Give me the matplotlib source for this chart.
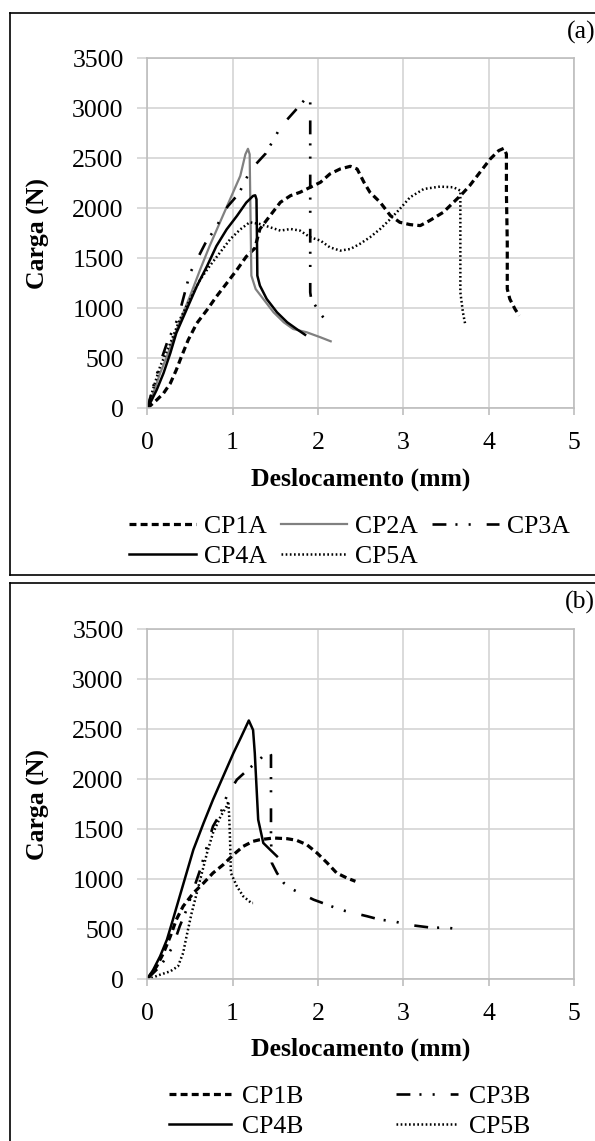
import matplotlib
matplotlib.use("Agg")
import matplotlib.pyplot as plt
from matplotlib.lines import Line2D

plt.rcParams["font.family"] = ["Liberation Serif", "DejaVu Serif"]
plt.rcParams["lines.scale_dashes"] = False

# ---- panel (a) data: displacement (mm) / load (N) ----
cp1a_x = [0, 0.11, 0.19, 0.27, 0.34, 0.40, 0.48, 0.58, 0.70, 0.81, 0.93, 1.05, 1.16, 1.26,
          1.32, 1.44, 1.56, 1.68, 1.79, 1.91, 2.03, 2.14, 2.26, 2.38, 2.46, 2.54, 2.61, 2.73,
          2.85, 2.96, 3.08, 3.20, 3.31, 3.47, 3.59, 3.69, 3.78, 3.90, 4.02, 4.12, 4.18, 4.21,
          4.21, 4.22, 4.22, 4.25, 4.31, 4.36]
cp1a_y = [0, 83, 150, 250, 384, 517, 684, 850, 984, 1117, 1250, 1384, 1517, 1600,
          1793, 1927, 2060, 2127, 2160, 2210, 2260, 2343, 2393, 2420, 2393, 2260, 2160, 2060,
          1927, 1860, 1837, 1827, 1877, 1960, 2060, 2143, 2227, 2360, 2493, 2577, 2600, 2543,
          2160, 1660, 1193, 1093, 993, 927]

cp2a_x = [0, 0.07, 0.15, 0.23, 0.30, 0.42, 0.50, 0.62, 0.73, 0.85, 0.97, 1.09, 1.15, 1.18,
          1.20, 1.21, 1.22, 1.27, 1.36, 1.48, 1.60, 1.71, 1.87, 2.03, 2.15]
cp2a_y = [0, 150, 351, 518, 686, 953, 1120, 1388, 1622, 1856, 2090, 2324, 2540, 2595,
          2540, 1923, 1327, 1193, 1093, 960, 860, 793, 760, 710, 670]

cp3a_x = [0, 0.07, 0.15, 0.23, 0.36, 0.50, 0.68, 0.81, 0.94, 1.075, 1.21, 1.39, 1.565, 1.74,
          1.87, 1.91, 1.91, 1.91, 1.92, 1.97, 2.03, 2.09]
cp3a_y = [0, 217, 451, 652, 900, 1350, 1650, 1816, 2016, 2150, 2383, 2550, 2816, 2983,
          3110, 3080, 2000, 1160, 1100, 1027, 943, 883]

cp4a_x = [0, 0.05, 0.11, 0.19, 0.27, 0.34, 0.46, 0.58, 0.70, 0.81, 0.93, 1.05, 1.16, 1.24,
          1.265, 1.28, 1.285, 1.29, 1.32, 1.40, 1.52, 1.64, 1.75, 1.85]
cp4a_y = [0, 80, 184, 351, 552, 752, 986, 1220, 1421, 1622, 1789, 1923, 2057, 2124,
          2130, 2090, 1750, 1327, 1227, 1093, 960, 860, 793, 735]

cp5a_x = [0, 0.07, 0.15, 0.27, 0.38, 0.50, 0.62, 0.73, 0.85, 0.97, 1.09, 1.20, 1.32, 1.44,
          1.56, 1.68, 1.79, 1.91, 2.03, 2.14, 2.26, 2.38, 2.49, 2.61, 2.73, 2.85, 2.96, 3.08,
          3.24, 3.43, 3.59, 3.67, 3.67, 3.67, 3.67, 3.70, 3.73]
cp5a_y = [0, 200, 418, 652, 886, 1087, 1287, 1421, 1555, 1689, 1789, 1860, 1843, 1810,
          1777, 1793, 1777, 1710, 1677, 1610, 1577, 1593, 1643, 1710, 1793, 1893, 1993, 2110,
          2193, 2217, 2210, 2177, 1827, 1493, 1160, 960, 827]

# ---- panel (b) data ----
cp1b_x = [0, 0.11, 0.19, 0.27, 0.34, 0.42, 0.54, 0.66, 0.77, 0.89, 1.01, 1.125, 1.24, 1.32,
          1.48, 1.64, 1.75, 1.87, 1.99, 2.11, 2.22, 2.34, 2.44]
cp1b_y = [0, 127, 260, 427, 593, 727, 860, 960, 1060, 1143, 1243, 1327, 1377, 1393,
          1410, 1403, 1387, 1343, 1260, 1160, 1060, 1010, 977]

cp3b_x = [0, 0.07, 0.15, 0.23, 0.30, 0.38, 0.46, 0.54, 0.62, 0.70, 0.77, 0.86, 0.93, 1.05,
          1.20, 1.30, 1.38, 1.42, 1.45, 1.45, 1.45, 1.46, 1.52, 1.60, 1.71, 1.83, 1.95, 2.11,
          2.26, 2.42, 2.58, 2.73, 2.89, 3.05, 3.20, 3.36, 3.48, 3.66]
cp3b_y = [0, 60, 127, 227, 327, 527, 693, 893, 1093, 1327, 1527, 1660, 1827, 1993,
          2110, 2180, 2250, 2300, 2240, 1800, 1400, 1160, 1060, 960, 893, 843, 793, 743,
          693, 660, 627, 593, 577, 543, 527, 510, 517, 497]

cp4b_x = [0, 0.07, 0.15, 0.23, 0.30, 0.38, 0.46, 0.54, 0.66, 0.77, 0.89, 1.01, 1.10, 1.19,
          1.24, 1.26, 1.28, 1.30, 1.36, 1.44, 1.52]
cp4b_y = [0, 93, 227, 393, 593, 827, 1060, 1293, 1560, 1793, 2027, 2260, 2420, 2585,
          2490, 2260, 1927, 1593, 1360, 1293, 1227]

cp5b_x = [0, 0.05, 0.15, 0.27, 0.36, 0.42, 0.46, 0.52, 0.58, 0.64, 0.70, 0.77, 0.86, 0.93,
          0.95, 0.96, 0.97, 0.98, 1.05, 1.125, 1.22, 1.24]
cp5b_y = [0, 10, 43, 77, 127, 260, 427, 660, 860, 1060, 1260, 1460, 1627, 1727,
          1777, 1627, 1393, 1060, 927, 827, 760, 760]

x_ticks = [0, 1, 2, 3, 4, 5]
y_ticks = [0, 500, 1000, 1500, 2000, 2500, 3000, 3500]

# line styles (dash lengths in points)
DASHED = dict(color="black", lw=2.3, linestyle=(0, (5, 3)))
GRAY = dict(color="#808080", lw=1.6, linestyle="-")
DASHDOTDOT = dict(color="black", lw=1.9, linestyle=(0, (10, 6.5, 1.5, 8, 1.5, 11.5)))
SOLID = dict(color="black", lw=1.8, linestyle="-")
DOTTED = dict(color="black", lw=1.8, linestyle=(0, (1.2, 1.8)))

W, H = 595, 1141
FS = 18.5
GRID_C = "#d4d4d4"

fig = plt.figure(figsize=(W / 100, H / 100), dpi=100)


def fx(px):
    return px / W


def fy(py):
    return 1 - py / H


def style_axes(ax):
    ax.set_xlim(0, 5)
    ax.set_ylim(0, 3500)
    ax.set_xticks(x_ticks)
    ax.set_yticks(y_ticks)
    ax.grid(True, color=GRID_C, lw=1.2)
    ax.set_axisbelow(True)
    for s in ax.spines.values():
        s.set_color("#bdbdbd")
        s.set_linewidth(1.2)
    ax.tick_params(axis="x", length=5, width=1.2, color="#bdbdbd", pad=12, labelsize=FS)
    ax.tick_params(axis="y", length=7, width=1.2, color=GRID_C, pad=10, labelsize=FS)
    ax.set_xlabel("Deslocamento (mm)", fontsize=FS, fontweight="bold")
    ax.xaxis.set_label_coords(0.5, -(479 - 408.3) / 350)
    ax.xaxis.label.set_verticalalignment("center")
    ax.set_ylabel("Carga (N)", fontsize=FS, fontweight="bold")
    ax.yaxis.set_label_coords((38 - 147.3) / 426.5, 0.5)
    ax.yaxis.label.set_verticalalignment("center")


ax_w = fx(573.8) - fx(147.3)
ax_h = fy(58.3) - fy(408.3)
ax_a = fig.add_axes([fx(147.3), fy(408.3), ax_w, ax_h])
ax_b = fig.add_axes([fx(147.3), fy(979), ax_w, ax_h])

# panel (a)
l1a, = ax_a.plot(cp1a_x, cp1a_y, label="CP1A", **DASHED)
l2a, = ax_a.plot(cp2a_x, cp2a_y, label="CP2A", **GRAY)
l3a, = ax_a.plot(cp3a_x, cp3a_y, label="CP3A", **DASHDOTDOT)
l4a, = ax_a.plot(cp4a_x, cp4a_y, label="CP4A", **SOLID)
l5a, = ax_a.plot(cp5a_x, cp5a_y, label="CP5A", **DOTTED)
style_axes(ax_a)

# panel (b)
l1b, = ax_b.plot(cp1b_x, cp1b_y, label="CP1B", **DASHED)
l3b, = ax_b.plot(cp3b_x, cp3b_y, label="CP3B", **DASHDOTDOT)
l4b, = ax_b.plot(cp4b_x, cp4b_y, label="CP4B", **SOLID)
l5b, = ax_b.plot(cp5b_x, cp5b_y, label="CP5B", **DOTTED)
style_axes(ax_b)

# legends (reordered so they read row by row)
fig.legend([l1a, l4a, l2a, l5a, l3a], ["CP1A", "CP4A", "CP2A", "CP5A", "CP3A"],
           ncol=3, loc="upper left", bbox_to_anchor=(fx(129), fy(515)),
           frameon=False, fontsize=FS, borderpad=0, borderaxespad=0,
           handlelength=2.6, handletextpad=0.3, columnspacing=0.55, labelspacing=0.28)
fig.legend([l1b, l4b, l3b, l5b], ["CP1B", "CP4B", "CP3B", "CP5B"],
           ncol=2, loc="upper left", bbox_to_anchor=(fx(169), fy(1085)),
           frameon=False, fontsize=FS, borderpad=0, borderaxespad=0,
           handlelength=2.4, handletextpad=0.45, columnspacing=3.6, labelspacing=0.28)

# panel letters
fig.text(fx(595), fy(32), "(a)", ha="right", va="center", fontsize=FS)
fig.text(fx(595), fy(602), "(b)", ha="right", va="center", fontsize=FS)

# panel frames
frame = dict(color="black", lw=1.2, transform=fig.transFigure)
fig.add_artist(Line2D([fx(9.5), fx(600)], [fy(12.7), fy(12.7)], **frame))
fig.add_artist(Line2D([fx(9.5), fx(9.5)], [fy(12.7), fy(575)], **frame))
fig.add_artist(Line2D([fx(9.5), fx(600)], [fy(575), fy(575)], **frame))
fig.add_artist(Line2D([fx(9.5), fx(600)], [fy(583), fy(583)], **frame))
fig.add_artist(Line2D([fx(9.5), fx(9.5)], [fy(583), fy(1150)], **frame))

fig.savefig("out.png", dpi=100)
